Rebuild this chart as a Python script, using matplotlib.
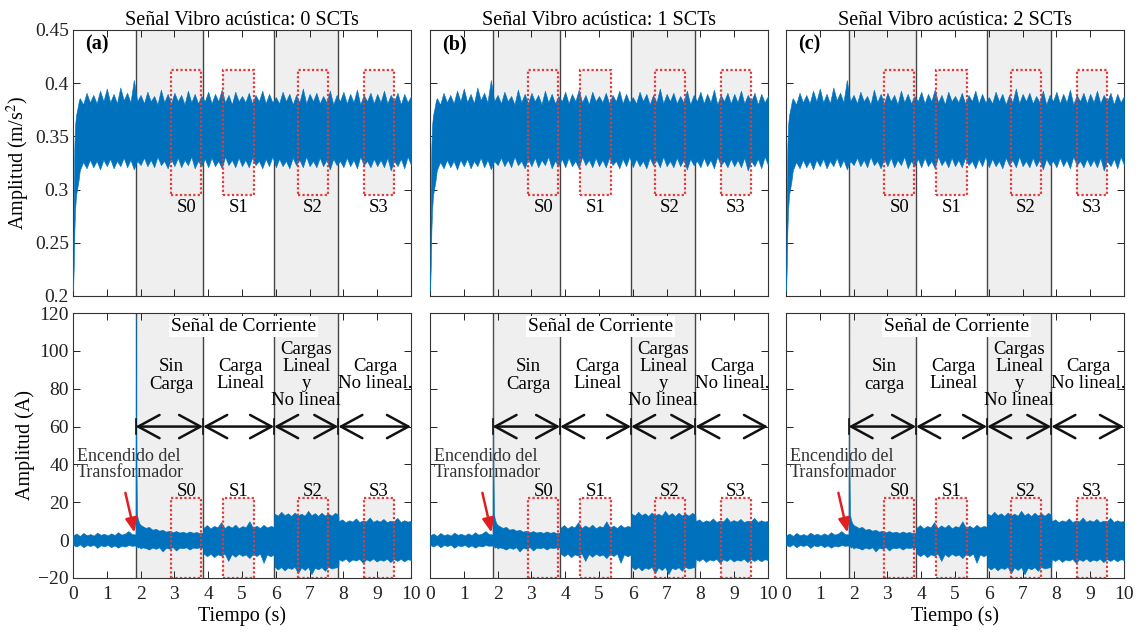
import numpy as np
import matplotlib

matplotlib.use("Agg")
import matplotlib.pyplot as plt
from matplotlib.patches import Rectangle

# ---- data ----
panel_tags = ["(a)", "(b)", "(c)"]
panel_titles = ["Señal Vibro acústica: 0 SCTs", "Señal Vibro acústica: 1 SCTs",
                "Señal Vibro acústica: 2 SCTs"]
no_load_labels = ["Sin\nCarga", "Sin\nCarga", "Sin\ncarga"]

# stage boundaries (s)
stage_edges = [1.85, 3.85, 5.95, 7.85, 10.0]
shaded_spans = [(1.85, 3.85), (5.95, 7.85)]
stage_labels_x = [4.95, 6.9, 8.95]
stage_labels = ["Carga\nLineal", "Cargas\nLineal\ny\nNo lineal", "Carga\nNo lineal."]

# analysis windows S0..S3
win_names = ["S0", "S1", "S2", "S3"]
win_start = [2.9, 4.45, 6.65, 8.6]
win_end = [3.8, 5.35, 7.55, 9.5]
vib_win_y = (0.295, 0.412)
cur_win_y = (-20.0, 22.5)

# vibro-acoustic envelope: start-up points, then 0.2..10 s every 0.1 s
vib_t_start = [0.0, 0.02, 0.04, 0.06, 0.09, 0.13, 0.17]
vib_hi_start = [0.215, 0.29, 0.34, 0.36, 0.37, 0.376, 0.383]
vib_lo_start = [0.205, 0.225, 0.26, 0.28, 0.295, 0.302, 0.31]
vib_hi = [0.386, 0.380, 0.391, 0.382, 0.389, 0.381, 0.393, 0.383, 0.395,
          0.382, 0.390, 0.381, 0.396, 0.384, 0.391, 0.382, 0.403, 0.383, 0.389,
          0.381, 0.392, 0.383, 0.388, 0.380, 0.394, 0.382, 0.390, 0.381, 0.391,
          0.383, 0.389, 0.380, 0.393, 0.382, 0.390, 0.381, 0.388, 0.383, 0.392,
          0.381, 0.390, 0.383, 0.394, 0.382, 0.389, 0.380, 0.392, 0.383, 0.388,
          0.382, 0.391, 0.381, 0.389, 0.383, 0.393, 0.381, 0.390, 0.382, 0.387,
          0.381, 0.392, 0.383, 0.390, 0.380, 0.389, 0.382, 0.395, 0.381, 0.390,
          0.383, 0.391, 0.381, 0.388, 0.382, 0.393, 0.380, 0.389, 0.383, 0.392,
          0.381, 0.390, 0.382, 0.394, 0.380, 0.389, 0.383, 0.391, 0.381, 0.390,
          0.382, 0.393, 0.381, 0.389, 0.383, 0.391, 0.380, 0.390, 0.382, 0.388]
vib_lo = [0.318, 0.326, 0.320, 0.328, 0.321, 0.327, 0.319, 0.328, 0.322,
          0.329, 0.320, 0.327, 0.322, 0.330, 0.321, 0.328, 0.319, 0.327, 0.323,
          0.330, 0.322, 0.328, 0.321, 0.331, 0.323, 0.327, 0.320, 0.329, 0.322,
          0.330, 0.321, 0.328, 0.323, 0.331, 0.320, 0.327, 0.322, 0.329, 0.321,
          0.330, 0.322, 0.327, 0.320, 0.331, 0.323, 0.328, 0.321, 0.330, 0.322,
          0.328, 0.321, 0.330, 0.323, 0.327, 0.320, 0.329, 0.322, 0.331, 0.321,
          0.329, 0.322, 0.327, 0.320, 0.330, 0.323, 0.328, 0.321, 0.331, 0.322,
          0.327, 0.321, 0.330, 0.322, 0.328, 0.319, 0.329, 0.323, 0.327, 0.321,
          0.330, 0.322, 0.328, 0.320, 0.331, 0.323, 0.327, 0.321, 0.329, 0.322,
          0.328, 0.321, 0.330, 0.318, 0.327, 0.322, 0.329, 0.320, 0.331, 0.323]

# current envelope, one block per stage
cur_a_hi = [2.5, 3.5, 2.2, 3.8, 2.6, 3.2, 2.4, 4.0, 2.8, 3.4, 2.5, 3.6, 2.7, 4.2,
            2.9, 3.5, 4.8, 3.2, 3.0]
cur_a_lo = [-2.5, -3.4, -2.2, -3.8, -2.6, -3.1, -2.4, -4.1, -2.7, -3.3, -2.5,
            -3.7, -2.8, -4.0, -2.9, -3.4, -2.6, -3.0, -2.8]
cur_b_t = [1.85, 1.86, 1.875, 1.89, 1.92, 1.96, 2.0, 2.05, 2.15, 2.25, 2.35,
           2.45, 2.55, 2.65, 2.75, 2.85, 2.95, 3.05, 3.15, 3.25, 3.35, 3.45,
           3.55, 3.65, 3.75, 3.85]
cur_b_hi = [3, 118, 40, 14, 11, 9, 8, 7.5, 6.5, 7, 5.5, 6, 5, 5.5, 4.5, 5, 4.2,
            4.8, 4, 4.5, 3.8, 4.6, 3.9, 4.3, 3.7, 4.0]
cur_b_lo = [-3, -4, -3.5, -3.2, -4, -3.5, -4.5, -3.8, -4.2, -5, -3.9, -4.6,
            -3.8, -6, -4, -4.5, -3.7, -5.5, -4, -4.3, -3.8, -5, -3.9, -4.2,
            -3.8, -4.0]
cur_c_hi = [6.5, 8, 6.2, 7.5, 6.8, 9.5, 6.4, 7.8, 6.6, 8.2, 6.3, 7.4, 6.9, 10,
            6.5, 7.7, 6.4, 8.1, 6.7, 7.5, 7.0]
cur_c_lo = [-7, -8.5, -7.2, -9, -7.5, -8.2, -7.1, -11, -7.4, -8.8, -7.2, -8.3,
            -7.6, -9.5, -7.3, -8.4, -7.1, -12, -7.5, -8.6, -7.4]
cur_d_hi = [14, 13, 15, 13.2, 14.2, 12.8, 14.6, 13, 14, 12.9, 15.5, 13.1, 14.3,
            12.8, 14.5, 13, 14.1, 12.9, 14.4, 13.5]
cur_d_lo = [-14, -15.5, -14.2, -16, -14.5, -15.2, -14.1, -17.5, -14.4, -15.8,
            -14.2, -18, -14.6, -15.4, -14.3, -16.2, -14.1, -15, -14.5, -14.2]
cur_e_hi = [10, 11, 9.5, 10.5, 9.8, 11.5, 9.6, 10.4, 9.9, 12, 9.7, 10.6, 9.8,
            11.2, 9.5, 10.3, 9.9, 11.8, 9.6, 10.5, 9.8, 10.2]
cur_e_lo = [-10, -11, -9.8, -11.5, -10.2, -10.8, -9.9, -12, -10.1, -11, -9.7,
            -11.3, -10.3, -10.9, -9.8, -11.6, -10, -11, -9.9, -11.2, -10.1, -10.5]

SIG = "#0072BD"
SHADE = "#efefef"
RED = "#e03a3a"

plt.rcParams["font.family"] = ["Liberation Serif", "DejaVu Serif"]
plt.rcParams["mathtext.fontset"] = "stix"


def build_current():
    t = list(np.linspace(0.0, 1.845, len(cur_a_hi)))
    hi, lo = list(cur_a_hi), list(cur_a_lo)
    t += cur_b_t
    hi += cur_b_hi
    lo += cur_b_lo
    for (t0, t1), h, l in [((3.86, 5.95), cur_c_hi, cur_c_lo),
                           ((5.96, 7.85), cur_d_hi, cur_d_lo),
                           ((7.86, 10.0), cur_e_hi, cur_e_lo)]:
        t += list(np.linspace(t0, t1, len(h)))
        hi += h
        lo += l
    return np.array(t), np.array(hi), np.array(lo)


vib_t = np.concatenate([vib_t_start, np.round(np.arange(0.2, 10.001, 0.1), 2)])
vib_upper = np.array(vib_hi_start + vib_hi)
vib_lower = np.array(vib_lo_start + vib_lo)
cur_t, cur_upper, cur_lower = build_current()

fig = plt.figure(figsize=(11.39, 6.34), dpi=100)
lefts = [73 / 1139, 430 / 1139, 786 / 1139]
width = 338 / 1139


def style_axis(ax):
    ax.tick_params(direction="in", top=True, right=True, length=5, width=0.7,
                   labelsize=14, colors="#222222", pad=3)
    ax.tick_params(axis="x", pad=6)
    for sp in ax.spines.values():
        sp.set_color("#333333")
        sp.set_linewidth(0.8)
    ax.set_xlim(0, 10)
    ax.set_xticks(range(0, 11))


def common_marks(ax, ybox):
    for a, b in shaded_spans:
        ax.axvspan(a, b, color=SHADE, zorder=0, lw=0)
    for x in stage_edges[:-1]:
        ax.axvline(x, color="#444444", lw=1.0, zorder=1)
    for a, b in zip(win_start, win_end):
        ax.add_patch(Rectangle((a, ybox[0]), b - a, ybox[1] - ybox[0],
                               facecolor=SHADE, edgecolor="none", zorder=0.5))
        ax.add_patch(Rectangle((a, ybox[0]), b - a, ybox[1] - ybox[0],
                               fill=False, edgecolor=RED, lw=1.6, ls=(0, (1, 1)),
                               zorder=5))


for i in range(3):
    # top: vibro-acoustic
    ax = fig.add_axes([lefts[i], 1 - 296 / 634, width, 266 / 634])
    style_axis(ax)
    common_marks(ax, vib_win_y)
    ax.fill_between(vib_t, vib_lower, vib_upper, color=SIG, lw=0.4, ec=SIG,
                    zorder=3)
    ax.set_ylim(0.2, 0.45)
    ax.set_yticks([0.2, 0.25, 0.3, 0.35, 0.4, 0.45])
    ax.set_xticklabels([])
    if i == 0:
        ax.set_yticklabels(["0.2", "0.25", "0.3", "0.35", "0.4", "0.45"])
        ax.set_ylabel("Amplitud (m/s$^{2}$)", fontsize=14.5, labelpad=2)
    else:
        ax.set_yticklabels([])
    ax.set_title(panel_titles[i], fontsize=14.5, pad=3)
    ax.text(0.35, 0.436, panel_tags[i], fontsize=14.5, fontweight="bold",
            ha="left", va="center", zorder=6)
    for name, a, b in zip(win_names, win_start, win_end):
        ax.text((a + b) / 2, 0.283, name, fontsize=13.5, ha="center",
                va="center", zorder=6)

    # bottom: current
    ax = fig.add_axes([lefts[i], 1 - 578 / 634, width, 265 / 634])
    style_axis(ax)
    common_marks(ax, cur_win_y)
    ax.fill_between(cur_t, cur_lower, cur_upper, color=SIG, lw=0.4, ec=SIG,
                    zorder=3)
    ax.set_ylim(-20, 120)
    ax.set_yticks(range(-20, 121, 20))
    ax.set_xticklabels([str(v) for v in range(0, 11)])
    if i == 0:
        ax.set_ylabel("Amplitud (A)", fontsize=14.5, labelpad=2)
    else:
        ax.set_yticklabels([])
    if i != 1:
        ax.set_xlabel("Tiempo (s)", fontsize=14.5, labelpad=2)

    for name, a, b in zip(win_names, win_start, win_end):
        ax.text((a + b) / 2, 25.5, name, fontsize=13.5, ha="center",
                va="center", zorder=6)

    # stage arrows
    for a, b in zip(stage_edges[:-1], stage_edges[1:]):
        ax.annotate("", xy=(b, 60), xytext=(a, 60),
                    arrowprops=dict(arrowstyle="<->, head_length=0.7, head_width=0.38",
                                    mutation_scale=22, lw=1.8, color="#111111",
                                    shrinkA=0, shrinkB=0), zorder=6)
    for x in stage_edges[:-1]:
        ax.plot([x, x], [56, 64], color="#111111", lw=1.2, zorder=6)

    ax.text(5.05, 113, "Señal de Corriente", fontsize=14, ha="center",
            va="center", zorder=7,
            bbox=dict(facecolor="white", edgecolor="none", pad=1.5))
    ax.text(2.9, 87, no_load_labels[i], fontsize=13.5, ha="center", va="center",
            linespacing=1.05, zorder=6)
    for x, lab in zip(stage_labels_x, stage_labels):
        ax.text(x, 87, lab, fontsize=13.5, ha="center", va="center",
                linespacing=1.0, zorder=6)
    ax.text(0.12, 40, "Encendido del\nTransformador", fontsize=13,
            ha="left", va="center", color="#333333", linespacing=0.95,
            zorder=2)
    ax.annotate("", xy=(1.82, 4), xytext=(1.55, 25),
                arrowprops=dict(arrowstyle="-|>, head_length=0.6, head_width=0.25",
                                mutation_scale=14, lw=1.8, color="#e02020",
                                shrinkA=0, shrinkB=0), zorder=7)

fig.savefig("out.png", dpi=100)
